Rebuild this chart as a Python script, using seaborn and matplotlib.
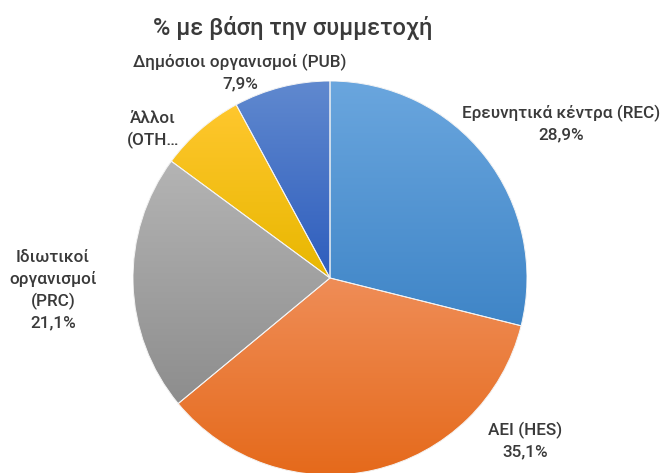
import numpy as np
import matplotlib
matplotlib.use("Agg")
import matplotlib.pyplot as plt
import matplotlib.colors as mcolors
import matplotlib.patches as mpatches
import seaborn as sns

# ---- data ----
categories = ["Ερευνητικά κέντρα (REC)", "AEI (HES)", "Ιδιωτικοί\nοργανισμοί\n(PRC)",
              "Άλλοι\n(OTH…", "Δημόσιοι οργανισμοί (PUB)"]
values = [28.9, 35.1, 21.1, 7.0, 7.9]
pct_labels = ["28,9%", "35,1%", "21,1%", "", "7,9%"]
title = "% με βάση την συμμετοχή"

top_colors = ["#6AA6DE", "#EF8D57", "#B4B4B4", "#FFC72E", "#6089CF"]
bottom_colors = ["#3F85C7", "#E5691A", "#8D8D8D", "#E8B700", "#2E5DBD"]

sns.set_theme(style="white")
plt.rcParams["font.family"] = ["Roboto", "DejaVu Sans"]

W, H = 661, 473
fig = plt.figure(figsize=(W / 100, H / 100), dpi=100)
fig.patch.set_facecolor("white")

cx, cy, r = 330, 278, 197
ax = fig.add_axes([(cx - r) / W, (H - cy - r) / H, 2 * r / W, 2 * r / H])
wedges, _ = ax.pie(values, startangle=90, counterclock=False, radius=1,
                   colors=top_colors,
                   wedgeprops=dict(edgecolor="white", linewidth=0.7))
ax.set_xlim(-1, 1)
ax.set_ylim(-1, 1)
ax.set_aspect("equal")
ax.axis("off")

# vertical gradient per wedge
for w, ct, cb in zip(wedges, top_colors, bottom_colors):
    verts = w.get_path().vertices
    x0, x1 = verts[:, 0].min(), verts[:, 0].max()
    y0, y1 = verts[:, 1].min(), verts[:, 1].max()
    cmap = mcolors.LinearSegmentedColormap.from_list("g", [cb, ct])
    grad = np.linspace(0, 1, 256).reshape(-1, 1)
    im = ax.imshow(grad, cmap=cmap, origin="lower", aspect="auto",
                   extent=[x0, x1, y0, y1], zorder=w.get_zorder() + 0.1,
                   interpolation="bilinear")
    im.set_clip_path(w)
    edge = mpatches.PathPatch(w.get_path(), facecolor="none",
                              edgecolor="#F4F4F4", linewidth=0.7,
                              zorder=w.get_zorder() + 0.2,
                              transform=w.get_transform())
    ax.add_patch(edge)
ax.set_xlim(-1, 1)
ax.set_ylim(-1, 1)

tc = "#3A3A3A"
def ftext(x, y, s, size=12.3, **kw):
    fig.text(x / W, 1 - y / H, s, ha="center", va="center", color=tc,
             fontsize=size, linespacing=1.45, fontweight="medium", **kw)

ftext(293, 28, title, size=17)
ftext(561, 124, categories[0] + "\n" + pct_labels[0])
ftext(525, 441, categories[1] + "\n" + pct_labels[1])
ftext(53, 290, categories[2] + "\n" + pct_labels[2])
ftext(153, 130, categories[3])
ftext(240, 73, categories[4] + "\n" + pct_labels[4])

fig.savefig("out.png", dpi=100, facecolor="white")
